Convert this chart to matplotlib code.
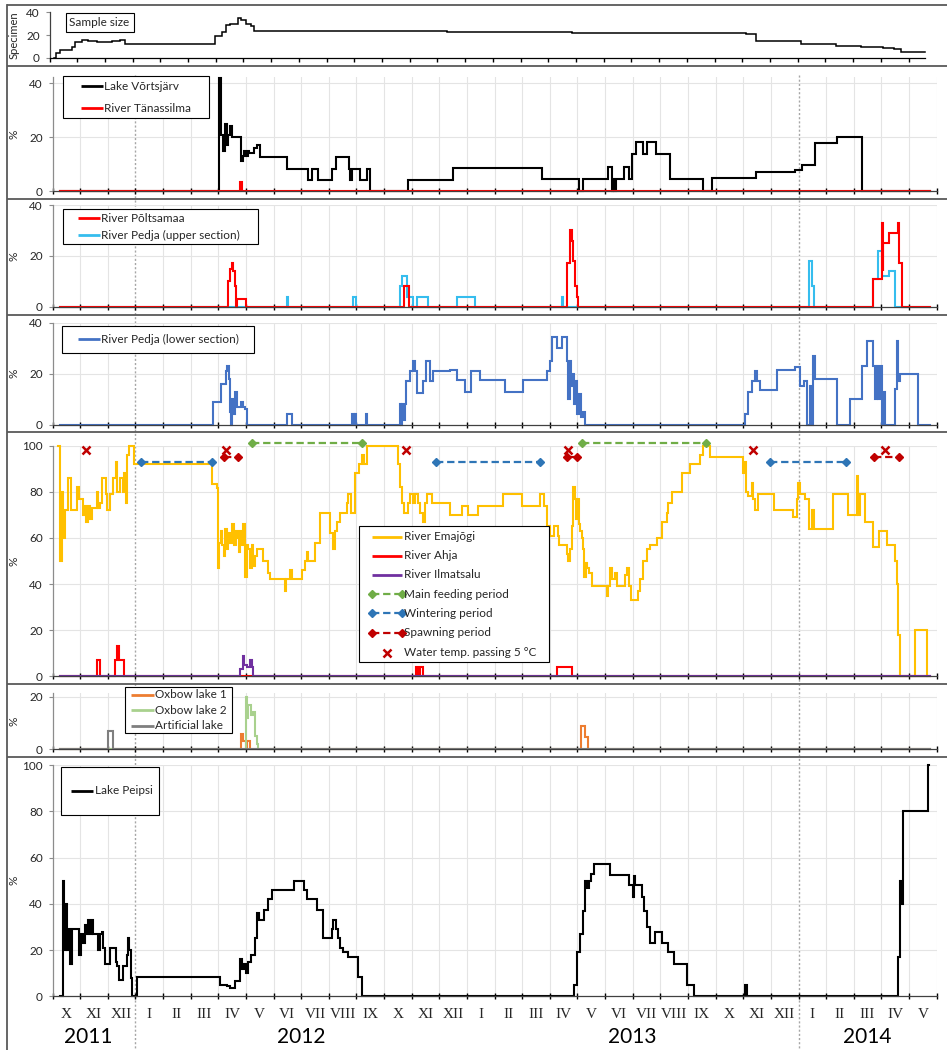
import matplotlib
matplotlib.use('Agg')
import matplotlib.pyplot as plt
import matplotlib.transforms as mtransforms
from matplotlib.patches import Rectangle

# ---------------- data (time axis = months since 1 Oct 2011) ----------------
month_labels = ['X', 'XI', 'XII', 'I', 'II', 'III', 'IV', 'V', 'VI', 'VII', 'VIII', 'IX', 'X', 'XI', 'XII',
                'I', 'II', 'III', 'IV', 'V', 'VI', 'VII', 'VIII', 'IX', 'X', 'XI', 'XII',
                'I', 'II', 'III', 'IV', 'V']
years = ['2011', '2012', '2013', '2014']
year_pos = [1.3, 9.0, 21.0, 29.5]
year_breaks = [3, 27]

# Sample size (specimen)
t_sample = [0.15, 0.25, 0.39, 0.81, 0.93, 1.18, 1.40, 1.72, 2.26, 2.56, 2.71, 5.97, 6.24, 6.36, 6.50, 6.79,
            6.91, 7.09, 7.27, 7.37, 14.33, 18.85, 19.39, 23.55, 25.12, 25.49, 27.12, 28.38, 29.29, 30.07,
            30.49, 30.73, 31.58]
v_sample = [0, 4, 7, 10, 14, 16, 15, 14, 15, 16, 12, 19, 23, 29, 30, 35, 33, 30, 28, 24, 23, 22.3, 22,
            21.5, 21, 14.5, 12, 10.5, 9.5, 8.5, 7.5, 5, 5]

# Lake Vortsjarv / River Tanassilma (%)
t_vortsjarv = [0.27, 6.03, 6.09, 6.17, 6.24, 6.30, 6.36, 6.42, 6.50, 6.82, 6.88, 6.94, 7.00, 7.06, 7.12,
               7.30, 7.40, 7.51, 8.50, 9.26, 9.38, 9.62, 10.10, 10.26, 10.74, 10.78, 10.84, 11.13, 11.37,
               11.49, 12.88, 14.51, 17.70, 19.07, 19.21, 20.12, 20.24, 20.30, 20.34, 20.38, 20.68, 20.88,
               20.96, 21.12, 21.36, 21.51, 21.84, 22.35, 23.55, 23.88, 25.46, 26.87, 27.12, 27.60, 28.38,
               29.29, 31.76]
v_vortsjarv = [0, 42, 21, 15, 25, 17, 21, 24, 20, 11, 13, 15, 13, 15, 14, 16, 17, 12.5, 8.3, 4.2, 8.3,
               4.2, 8.3, 12.5, 8.3, 4.2, 8.3, 4.2, 8.3, 0, 4.2, 8.7, 4.5, 0, 4.5, 9.1, 0, 4.5, 0, 4.5,
               9.1, 4.5, 13.6, 18.2, 13.6, 18.2, 13.6, 4.5, 0, 4.8, 7.1, 7.7, 9.5, 18, 20, 0, 0]
t_tanassilma = [0.27, 6.79, 6.85, 31.76]
v_tanassilma = [0, 3.5, 0, 0]

# River Poltsamaa / River Pedja upper section (%)
t_poltsamaa = [0.27, 6.36, 6.42, 6.48, 6.54, 6.60, 6.64, 6.66, 7.00, 12.72, 12.91, 18.61, 18.73, 18.79,
               18.85, 18.91, 18.97, 19.03, 29.71, 30.01, 30.04, 30.07, 30.29, 30.61, 30.64, 30.73, 31.76]
v_poltsamaa = [0, 10, 15, 17, 14, 8, 0, 3, 0, 8, 0, 17, 30, 26, 18, 8, 4, 0, 11, 33, 14, 25, 29, 33,
               17, 0, 0]
t_pedja_up = [0.27, 8.48, 8.54, 10.86, 10.98, 12.58, 12.64, 12.82, 13.06, 13.18, 13.60, 14.63, 15.29,
              18.43, 18.49, 27.39, 27.48, 27.56, 29.71, 29.89, 30.01, 30.29, 30.49, 31.76]
v_pedja_up = [0, 4, 0, 4, 0, 8, 12, 4, 0, 4, 0, 4, 0, 4, 0, 18, 8, 0, 11, 22, 12, 14, 0, 0]

# River Pedja lower section (%)
t_pedja_low = [0.27, 5.82, 6.09, 6.28, 6.32, 6.37, 6.42, 6.46, 6.51, 6.54,
               6.62, 6.66, 6.81, 6.88, 6.97, 7.05, 8.50, 8.68, 10.85, 10.90,
               10.94, 10.98, 11.33, 11.37, 12.58, 12.62, 12.66, 12.70, 12.74, 12.79,
               12.94, 13.06, 13.12, 13.18, 13.42, 13.52, 13.66, 13.78, 14.39, 14.63,
               14.93, 15.15, 15.47, 16.38, 17.04, 17.91, 18.01, 18.09, 18.27, 18.43,
               18.63, 18.67, 18.72, 18.76, 18.82, 18.88, 18.94, 19.00, 19.06, 19.12,
               19.20, 19.27, 25.06, 25.18, 25.31, 25.43, 25.51, 25.61, 26.21, 26.87,
               27.05, 27.20, 27.30, 27.40, 27.48, 27.54, 27.60, 28.38, 28.86, 29.29,
               29.47, 29.71, 29.77, 29.83, 29.89, 29.95, 30.01, 30.07, 30.13, 30.49,
               30.55, 30.61, 30.67, 31.34, 31.76]
v_pedja_low = [0, 9, 16, 21, 23, 18, 5, 0, 10, 4,
               13, 7, 9, 7, 6, 0, 4, 0, 4, 0,
               4, 0, 4, 0, 8, 0, 8, 2, 8, 17,
               21, 25, 21, 12.5, 17, 25, 17, 21, 21.5, 17.5,
               13, 21, 17.5, 13, 17.5, 21, 25, 34.5, 30, 34.5,
               25, 10, 25, 15, 20, 8, 17, 4, 12, 3,
               5, 0, 4, 13, 17, 21, 17, 13.5, 21.5, 22.5,
               15, 17, 0, 15, 0, 27, 18, 0, 10, 23,
               33, 23, 10, 23, 10, 23, 0, 13, 0, 14,
               33, 17, 20, 0, 0]

# River Emajogi / Ahja / Ilmatsalu (%)
t_emajogi = [0.21, 0.27, 0.33, 0.39, 0.45, 0.57, 0.66, 0.90, 0.97, 1.09,
             1.14, 1.21, 1.30, 1.36, 1.42, 1.60, 1.63, 1.72, 1.78, 1.94,
             1.98, 2.08, 2.20, 2.30, 2.35, 2.44, 2.54, 2.59, 2.65, 2.71,
             2.76, 2.95, 5.76, 5.94, 6.00, 6.04, 6.10, 6.15, 6.21, 6.24,
             6.30, 6.36, 6.42, 6.51, 6.58, 6.64, 6.70, 6.74, 6.79, 6.85,
             6.91, 6.97, 7.03, 7.09, 7.15, 7.21, 7.27, 7.33, 7.39, 7.63,
             7.81, 7.87, 8.41, 8.45, 8.60, 8.66, 9.02, 9.14, 9.20, 9.26,
             9.50, 9.68, 10.04, 10.14, 10.22, 10.31, 10.41, 10.65, 10.71, 10.79,
             10.95, 11.11, 11.19, 11.29, 11.37, 12.52, 12.58, 12.66, 12.72, 12.88,
             12.94, 13.06, 13.12, 13.24, 13.30, 13.40, 13.48, 13.54, 13.72, 14.39,
             14.81, 15.05, 15.41, 16.32, 16.98, 17.64, 17.79, 17.88, 18.01, 18.15,
             18.28, 18.34, 18.61, 18.67, 18.73, 18.79, 18.85, 18.91, 18.95, 18.99,
             19.07, 19.09, 19.15, 19.21, 19.25, 19.31, 19.36, 19.43, 19.51, 20.06,
             20.12, 20.18, 20.24, 20.36, 20.42, 20.72, 20.78, 20.88, 20.94, 21.20,
             21.26, 21.36, 21.50, 21.62, 21.87, 22.05, 22.23, 22.29, 22.41, 22.77,
             23.07, 23.43, 23.55, 23.80, 24.98, 25.03, 25.10, 25.18, 25.30, 25.36,
             25.42, 25.52, 26.11, 26.81, 26.93, 26.99, 27.05, 27.23, 27.39, 27.48,
             27.56, 28.26, 28.80, 29.10, 29.16, 29.22, 29.41, 29.71, 29.92, 30.19,
             30.49, 30.55, 30.61, 30.67, 31.22, 31.64]
v_emajogi = [100, 50, 80, 60, 72, 86, 72, 82, 77, 70,
             74, 67, 74, 68, 73, 80, 73, 75, 86, 79,
             72, 79, 86, 93, 80, 86, 80, 88, 75, 96,
             100, 92, 83.5, 81.5, 47, 58, 63, 57, 52, 64,
             55, 62, 58, 66, 57, 63, 60, 54, 63, 57,
             66, 43, 57, 55, 47, 57, 48, 52, 55, 50,
             45, 42, 37, 42, 46, 42, 46, 50, 54, 50,
             58, 71, 62, 55, 63, 67, 71, 75, 79, 71,
             88, 92, 96, 92, 100, 92, 82, 75, 71, 75,
             79, 75, 79, 75, 71, 67, 75, 79, 75, 70,
             74, 70, 74, 79, 74, 79, 74, 65, 61, 65,
             61, 57, 53, 50, 55, 65, 82, 77, 68, 77,
             66, 63, 60, 55, 43, 49, 47, 45, 39, 35,
             39, 47, 42, 45, 39, 44, 47, 39, 33, 37,
             42, 50, 55, 57, 60, 67, 71, 75, 80, 88,
             92, 96, 100, 95, 88, 93, 80, 78, 84, 77,
             72, 79, 72, 69, 77, 84, 79, 77, 64, 72,
             64, 79, 70, 87, 70, 79, 67, 56, 63, 57,
             50, 40, 18, 0, 20, 0]
t_ahja = [0.27, 1.60, 1.72, 2.26, 2.35, 2.41, 2.59, 13.16, 13.24, 13.30, 13.40, 18.25, 18.79, 31.76]
v_ahja = [0, 7, 0, 7, 13, 7, 0, 4, 0, 4, 0, 4, 0, 0]
t_ilmatsalu = [0.27, 6.79, 6.88, 6.93, 7.03, 7.15, 7.21, 7.27, 31.76]
v_ilmatsalu = [0, 3, 9, 5, 4, 7, 4, 0, 0]

# periods and events (panel 5)
feeding_start = [7.23, 19.15]
feeding_end = [11.19, 23.65]
feeding_level = 101
wintering_start = [3.19, 13.88, 25.97]
wintering_end = [5.78, 17.64, 28.72]
wintering_level = 93
spawning_start = [6.21, 18.61, 29.74]
spawning_end = [6.72, 18.99, 30.64]
spawning_level = 95
temp5_t = [1.21, 6.28, 12.78, 18.64, 25.36, 30.13]
temp5_v = [98, 98, 98, 98, 98, 98]

# Oxbow lakes / artificial lake (%)
t_oxbow1 = [0.27, 6.82, 6.91, 6.99, 7.05, 7.15, 19.13, 19.27, 19.39, 31.76]
v_oxbow1 = [0, 6, 3, 0, 3, 0, 9, 4.5, 0, 0]
t_oxbow2 = [0.27, 6.99, 7.05, 7.09, 7.17, 7.27, 7.33, 7.39, 7.45, 31.76]
v_oxbow2 = [0, 20, 12, 17, 13, 14, 5, 2, 0, 0]
t_artificial = [0.27, 2.02, 2.18, 31.76]
v_artificial = [0, 7, 0, 0]

# Lake Peipsi (%)
t_peipsi = [0.27, 0.39, 0.43, 0.48, 0.51, 0.55, 0.63, 0.69, 0.97, 1.03,
            1.09, 1.18, 1.24, 1.30, 1.36, 1.42, 1.48, 1.66, 1.72, 1.78,
            1.84, 1.90, 2.08, 2.30, 2.35, 2.39, 2.56, 2.68, 2.73, 2.78,
            2.83, 2.87, 3.05, 6.06, 6.30, 6.42, 6.62, 6.79, 6.85, 6.93,
            7.00, 7.09, 7.17, 7.33, 7.41, 7.49, 7.66, 7.81, 7.93, 8.74,
            9.10, 9.22, 9.56, 9.78, 10.10, 10.16, 10.26, 10.35, 10.41, 10.53,
            10.68, 11.07, 11.19, 18.87, 18.99, 19.09, 19.19, 19.27, 19.36, 19.43,
            19.48, 19.60, 20.18, 20.88, 21.00, 21.05, 21.08, 21.32, 21.41, 21.50,
            21.62, 21.81, 22.05, 22.29, 22.49, 22.95, 23.22, 25.06, 25.15, 30.61,
            30.67, 30.73, 30.79, 31.70, 31.73]
v_peipsi = [0, 50, 20, 40, 20, 29, 14, 29, 18, 27,
            23, 31, 27, 33, 27, 33, 27, 20, 27, 28,
            21, 14, 21, 15, 13, 7, 13, 18, 25, 20,
            8, 0, 8.5, 5, 4.5, 3.5, 6.5, 16, 12, 14,
            10, 15, 18, 25, 36, 33, 37.5, 42, 46, 50,
            46, 42, 37.5, 25, 29, 33, 29, 25, 21, 19,
            17, 8.5, 0, 5, 19, 27, 37, 50, 47, 50,
            53, 57, 52.5, 48, 43, 52, 48, 43, 37, 30,
            23, 28, 23, 19, 14, 5, 0, 5, 0, 17,
            50, 40, 80, 100, 100]

# ---------------- styles ----------------
C_VORT = 'black'
C_RED = '#FF0000'
C_PEDJA_UP = '#35BDEE'
C_PEDJA_LOW = '#4472C4'
C_EMA = '#FFC000'
C_ILMA = '#7030A0'
C_FEED = '#70AD47'
C_WINT = '#2E75B6'
C_SPAWN = '#C00000'
C_OX1 = '#ED7D31'
C_OX2 = '#A9D18E'
C_ART = '#7F7F7F'
LW = 1.5
DASH = (3.3, 1.7)
TXT = '#262626'

W, H = 947, 1050
plt.rcParams['font.family'] = ['Lato', 'DejaVu Sans']
fig = plt.figure(figsize=(W / 100, H / 100), dpi=100)
fig.patch.set_facecolor('white')

bg = fig.add_axes([0, 0, 1, 1], zorder=-1)
bg.set_xlim(0, W); bg.set_ylim(H, 0); bg.axis('off')
ov = fig.add_axes([0, 0, 1, 1], zorder=20)
ov.set_xlim(0, W); ov.set_ylim(H, 0); ov.axis('off')

MW = 27.63  # pixels per month


def panel(top, bottom, xmax, left=52.5, mw=MW):
    ax = fig.add_axes([left / W, 1 - bottom / H, xmax * mw / W, (bottom - top) / H])
    ax.patch.set_visible(False)
    return ax


def style(ax, ymax, yticks, xmax=32, grid=True, xtick_dir='inout'):
    ax.set_xlim(0, xmax)
    ax.set_ylim(0, ymax)
    ax.set_xticks(range(0, int(xmax) + 1))
    ax.tick_params(axis='x', direction=xtick_dir, length=4.5 if xtick_dir == 'inout' else 3,
                   width=1.0, color='black', labelbottom=False)
    ax.set_yticks(yticks)
    ax.tick_params(axis='y', direction='out', length=3, width=0.8, color='#8c8c8c',
                   labelsize=8.5, pad=4, labelcolor=TXT)
    ax.spines['top'].set_visible(False)
    ax.spines['right'].set_visible(False)
    ax.spines['left'].set_color('#8c8c8c')
    ax.spines['left'].set_linewidth(0.9)
    ax.spines['bottom'].set_color('#404040')
    ax.spines['bottom'].set_linewidth(0.9)
    if grid:
        for m in range(1, int(xmax) + 1):
            if m not in year_breaks:
                ax.axvline(m, color='#e4e4e4', lw=0.8, zorder=0.5)
        for yt in yticks[1:]:
            ax.axhline(yt, color='#e4e4e4', lw=0.8, zorder=0.5)


def step(ax, t, v, color, lw=LW, z=2):
    ax.plot(t, v, drawstyle='steps-post', color=color, lw=lw, zorder=z, clip_on=False,
            solid_joinstyle='miter')


def legend(box, hx, tx, entries, fs=8.5):
    x0, y0, x1, y1 = box
    ov.add_patch(Rectangle((x0, y0), x1 - x0, y1 - y0, fc='white', ec='black', lw=0.8))
    for label, y, kind, color in entries:
        if kind == 'line':
            ov.plot(hx, [y, y], color=color, lw=2.0, solid_capstyle='butt')
        elif kind == 'period':
            ov.plot(hx, [y, y], color=color, lw=1.6, dashes=DASH, marker='D', ms=3.8)
        elif kind == 'marker':
            ov.plot([(hx[0] + hx[1]) / 2], [y], ls='none', marker='x', ms=5.5, mew=1.8, color=color)
        ov.text(tx, y, label, va='center', ha='left', fontsize=fs, color=TXT)


# ---------------- panel 1: sample size ----------------
ax1 = panel(12.3, 58, 31.58, left=49.5, mw=27.71)
style(ax1, 40, [0, 20, 40], xmax=31.58, grid=False, xtick_dir='out')
ax1.spines['left'].set_color('#404040')
ax1.spines['bottom'].set_color('black')
step(ax1, t_sample, v_sample, 'black', lw=1.1)
ov.add_patch(Rectangle((66, 13), 68, 19, fc='white', ec='black', lw=0.8))
ov.text(69, 22.5, 'Sample size', va='center', ha='left', fontsize=8.5, color=TXT)
bg.text(14, 35, 'Specimen', rotation=90, va='center', ha='center', fontsize=8, color=TXT)

# ---------------- panel 2 ----------------
ax2 = panel(76.7, 191, 32)
style(ax2, 42.5, [0, 20, 40])
step(ax2, t_vortsjarv, v_vortsjarv, C_VORT)
step(ax2, t_tanassilma, v_tanassilma, C_RED)
legend((63, 76, 209, 118), [81, 103], 104,
       [('Lake Võrtsjärv', 86, 'line', C_VORT), ('River Tänassilma', 108, 'line', C_RED)])

# ---------------- panel 3 ----------------
ax3 = panel(205, 306.7, 32)
style(ax3, 40, [0, 20, 40])
step(ax3, t_pedja_up, v_pedja_up, C_PEDJA_UP)
step(ax3, t_poltsamaa, v_poltsamaa, C_RED)
legend((63, 209, 258, 244), [78, 100], 101,
       [('River Põltsamaa', 218, 'line', C_RED), ('River Pedja (upper section)', 235, 'line', C_PEDJA_UP)])

# ---------------- panel 4 ----------------
ax4 = panel(322.7, 424.7, 32)
style(ax4, 40, [0, 20, 40])
step(ax4, t_pedja_low, v_pedja_low, C_PEDJA_LOW)
legend((62, 326, 254, 353), [78, 100], 101, [('River Pedja (lower section)', 339, 'line', C_PEDJA_LOW)])

# ---------------- panel 5 ----------------
ax5 = panel(445.7, 676.3, 32)
style(ax5, 100, [0, 20, 40, 60, 80, 100])
step(ax5, t_emajogi, v_emajogi, C_EMA)
step(ax5, t_ahja, v_ahja, C_RED)
step(ax5, t_ilmatsalu, v_ilmatsalu, C_ILMA)
for s, e in zip(feeding_start, feeding_end):
    ax5.plot([s, e], [feeding_level, feeding_level], color=C_FEED, lw=1.6, dashes=DASH,
             marker='D', ms=3.8, clip_on=False, zorder=4)
for s, e in zip(wintering_start, wintering_end):
    ax5.plot([s, e], [wintering_level, wintering_level], color=C_WINT, lw=1.6, dashes=DASH,
             marker='D', ms=3.8, clip_on=False, zorder=4)
for s, e in zip(spawning_start, spawning_end):
    ax5.plot([s, e], [spawning_level, spawning_level], color=C_SPAWN, lw=1.6, dashes=DASH,
             marker='D', ms=3.8, clip_on=False, zorder=4)
ax5.plot(temp5_t, temp5_v, ls='none', marker='x', ms=5.5, mew=1.8, color=C_SPAWN, clip_on=False, zorder=5)
legend((359, 526, 549, 662), [372, 402], 404,
       [('River Emajõgi', 536.7, 'line', C_EMA),
        ('River Ahja', 555.7, 'line', C_RED),
        ('River Ilmatsalu', 575, 'line', C_ILMA),
        ('Main feeding period', 594, 'period', C_FEED),
        ('Wintering period', 613.3, 'period', C_WINT),
        ('Spawning period', 632.7, 'period', C_SPAWN),
        ('Water temp. passing 5 °C', 652.7, 'marker', C_SPAWN)])

# ---------------- panel 6 ----------------
ax6 = panel(692.7, 749.3, 32)
style(ax6, 21.5, [0, 20])
step(ax6, t_oxbow1, v_oxbow1, C_OX1)
step(ax6, t_oxbow2, v_oxbow2, C_OX2)
step(ax6, t_artificial, v_artificial, C_ART)
legend((125, 687, 232, 733), [131, 154], 155,
       [('Oxbow lake 1', 695, 'line', C_OX1), ('Oxbow lake 2', 710, 'line', C_OX2),
        ('Artificial lake', 725.7, 'line', C_ART)])

# ---------------- panel 7 ----------------
ax7 = panel(765, 996.3, 32)
style(ax7, 100, [0, 20, 40, 60, 80, 100])
step(ax7, t_peipsi, v_peipsi, 'black')
legend((61, 767, 159, 815), [71, 93], 95, [('Lake Peipsi', 791, 'line', 'black')])

# month and year labels
tr = mtransforms.blended_transform_factory(ax7.transData, bg.transData)
for i, lab in enumerate(month_labels):
    bg.text(i + 0.5, 1014, lab, transform=tr, ha='center', va='center',
            fontsize=11, family='Liberation Serif', color=TXT)
for y, p in zip(years, year_pos):
    bg.text(p, 1037, y, transform=tr, ha='center', va='center', fontsize=15, color='black')

# year boundaries (dotted)
for b in year_breaks:
    bg.plot([b, b], [75, 1050], transform=tr, color='#a6a6a6', lw=1.0, ls=(0, (1.5, 1.5)))

# % labels
for ax in [ax2, ax3, ax4, ax5, ax6, ax7]:
    pos = ax.get_position()
    yc = (1 - (pos.y0 + pos.y1) / 2) * H
    bg.text(14, yc, '%', rotation=90, va='center', ha='center', fontsize=8.5, color=TXT)

# panel frames
for yb in [5, 66, 199, 315, 432, 684, 757]:
    ov.plot([7, W], [yb, yb], color='#595959', lw=1.3, solid_capstyle='butt')
ov.plot([7, 7], [5, H], color='#595959', lw=1.3)

fig.savefig('out.png', dpi=100)
